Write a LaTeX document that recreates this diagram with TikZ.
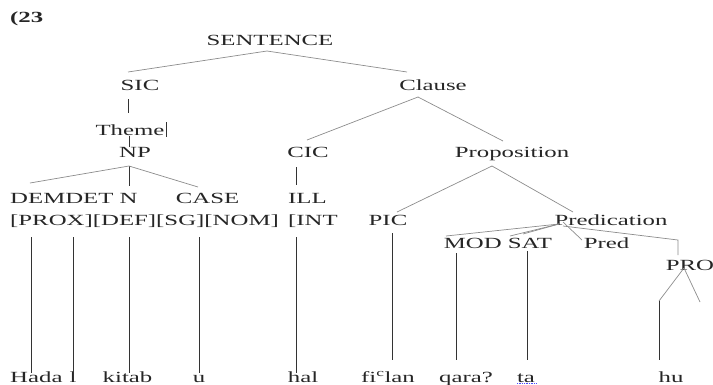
\documentclass[tikz,border=0pt]{standalone}
\usepackage{fontspec}
\setmainfont{Liberation Serif}[FakeStretch=1.6]
\begin{document}
\begin{tikzpicture}[x=1pt,y=-1pt,
  font=\fontsize{15.5}{18}\selectfont,
  lbl/.style={inner sep=0pt, anchor=base, text=black!85},
  lblw/.style={inner sep=0pt, anchor=base west, text=black!85},
  br/.style={draw=black!45, line width=0.7pt},
  st/.style={draw=black!80, line width=0.8pt}]
\useasboundingbox (0,0) rectangle (713,384);
% labels
\node[lblw, font=\fontsize{15.5}{18}\selectfont\bfseries] (ex) at (10,22) {(23};
\node[lbl] (sent) at (270,45) {SENTENCE};
\node[lbl] (sic) at (140,90) {SIC};
\node[lbl] (clause) at (433,90) {Clause};
\node[lbl] (theme) at (130,135) {Theme};
\node[lbl] (np) at (135,157) {NP};
\node[lbl] (cic) at (308,157) {CIC};
\node[lbl] (prop) at (512,157) {Proposition};
\node[lblw] (demdet) at (10,203) {DEMDET N};
\node[lbl] (case) at (207.5,203) {CASE};
\node[lblw] (ill) at (288,203) {ILL};
\node[lblw] (feat) at (10,225) {[PROX][DEF][SG][NOM]};
\node[lblw] (int) at (288,225) {[INT};
\node[lbl] (pic) at (388,225) {PIC};
\node[lbl] (pred) at (611,225) {Predication};
\node[lbl] (modsat) at (498,248) {MOD SAT};
\node[lbl] (predp) at (606.5,248) {Pred};
\node[lbl] (pro) at (690,270) {PRO};
% leaves
\node[lblw] (hada) at (10,382) {Hada};
\node[lbl] (l) at (73,382) {l};
\node[lbl] (kitab) at (127.5,382) {kitab};
\node[lbl] (u) at (199,382) {u};
\node[lbl] (hal) at (303,382) {hal};
\node[lbl] (filan) at (388,382) {fi\textsuperscript{c}lan};
\node[lbl] (qara) at (466,382) {qara?};
\node[lbl] (ta) at (526,382) {ta};
\node[lbl] (hu) at (671,382) {hu};
% junction points
\coordinate (sentB) at (267,51);
\coordinate (sicT) at (128,72);
\coordinate (clauseT) at (407,72);
\coordinate (sicB) at (128,99);
\coordinate (themeT) at (128,113);
\coordinate (bar1) at (166,122);
\coordinate (bar2) at (166,137);
\coordinate (themeB) at (129,136);
\coordinate (npT) at (129,147);
\coordinate (clauseB) at (418,97);
\coordinate (cicT) at (307,140);
\coordinate (propT) at (503,141);
\coordinate (npB) at (129,166);
\coordinate (demT) at (30,183);
\coordinate (nT) at (129,186);
\coordinate (caseT) at (198,187);
\coordinate (cicB) at (296,167);
\coordinate (illT) at (296,185);
\coordinate (propB) at (492,166);
\coordinate (picT) at (397,212);
\coordinate (predT) at (573,212);
\coordinate (predB) at (559,224);
\coordinate (modT) at (446,236);
\coordinate (satT) at (510,236);
\coordinate (satT2) at (523,234);
\coordinate (predB2) at (563,222);
\coordinate (predpT) at (582,240);
\coordinate (predB3) at (563,226);
\coordinate (proK) at (678,240);
\coordinate (proT) at (678,255);
\coordinate (proB) at (684,268);
\coordinate (proL) at (659,301);
\coordinate (proR) at (700,302);
% upper branches
\draw[br] (sentB) -- (sicT);
\draw[br] (sentB) -- (clauseT);
\draw[st] (sicB) -- (themeT);
\draw[st, line width=0.6pt] (bar1) -- (bar2);
\draw[st, line width=0.6pt] (themeB) -- (npT);
\draw[br] (clauseB) -- (cicT);
\draw[br] (clauseB) -- (propT);
\draw[br] (npB) -- (demT);
\draw[st] (npB) -- (nT);
\draw[br] (npB) -- (caseT);
\draw[st] (cicB) -- (illT);
\draw[br] (propB) -- (picT);
\draw[br] (propB) -- (predT);
\draw[br] (predB) -- (modT);
\draw[br] (predB) -- (satT);
\draw[br] (predB) -- (satT2);
\draw[br] (predB2) -- (predpT);
\draw[br] (predB3) -- (proK) -- (proT);
\draw[br] (proB) -- (proL);
\draw[br] (proB) -- (proR);
% leaf stems
\foreach \n/\x in {a/31,b/73,c/129,d/199,e/296}{
  \coordinate (top\n) at (\x,237);
  \coordinate (bot\n) at (\x,373);
  \draw[st] (top\n) -- (bot\n);
}
\coordinate (picB) at (392,233); \coordinate (filanT) at (392,360);
\coordinate (modB) at (456,253); \coordinate (qaraT) at (456,360);
\coordinate (satB) at (527,251); \coordinate (taT) at (527,360);
\coordinate (huT) at (659,360);
\draw[st] (picB) -- (filanT);
\draw[st] (modB) -- (qaraT);
\draw[st] (satB) -- (taT);
\draw[st] (proL) -- (huT);
% spell-check underline
\coordinate (sq1) at (517,383.5); \coordinate (sq2) at (537,383.5);
\draw[blue!70, densely dotted, line width=0.7pt] (sq1) -- (sq2);
\end{tikzpicture}
\end{document}
